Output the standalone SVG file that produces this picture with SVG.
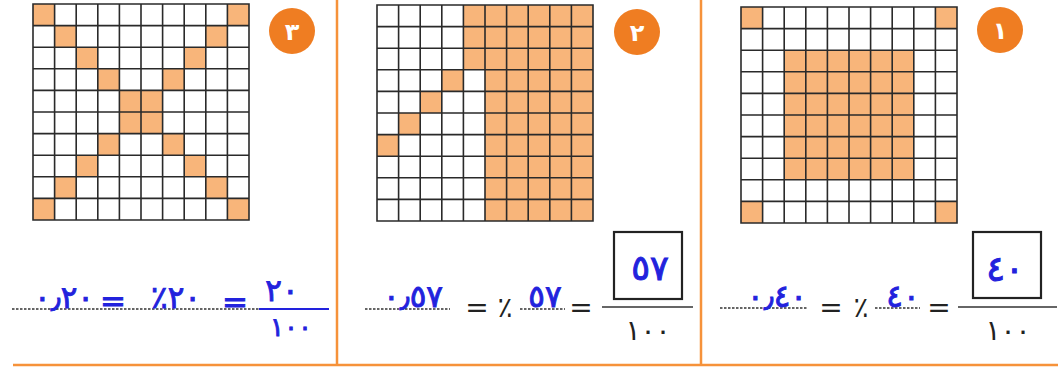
<svg xmlns="http://www.w3.org/2000/svg" xmlns:xlink="http://www.w3.org/1999/xlink" width="1058" height="368" viewBox="0 0 1058 368">
<style>
.f{fill:#F8B57A}
.gl{fill:none;stroke:#2a2a2a;stroke-width:1.6}
.or{stroke:#F6923A;stroke-width:2.5;fill:none}
.circ{fill:#EF7D22}
.cn{fill:#ffffff;font-family:"DejaVu Sans",sans-serif;font-size:24px;font-weight:bold;text-anchor:middle}
.hw{fill:#2222DD;stroke:#2222DD;stroke-width:0.9;font-family:"DejaVu Sans",sans-serif;font-size:31px;text-anchor:middle}
.hs{fill:#2222DD;stroke:#2222DD;stroke-width:0.8;font-family:"DejaVu Sans",sans-serif;font-size:26px;text-anchor:middle}
.hb{fill:#2222DD;stroke:#2222DD;stroke-width:1;font-family:"DejaVu Sans",sans-serif;font-size:35px;text-anchor:middle}
.bk{fill:#222222;font-family:"DejaVu Sans",sans-serif;font-size:28px;text-anchor:middle}
.dot{stroke:#333333;stroke-width:1.3;stroke-dasharray:2.5 1.5;fill:none}
.frac{stroke:#333333;stroke-width:1.6;fill:none}
.bluel{stroke:#2222DD;stroke-width:2.2;fill:none}
.box{fill:none;stroke:#222222;stroke-width:2.2}
</style>
<defs>
<path id="grid" class="gl" d="M0 0H216V216H0Z M21.6 0V216 M43.2 0V216 M64.8 0V216 M86.4 0V216 M108 0V216 M129.6 0V216 M151.2 0V216 M172.8 0V216 M194.4 0V216 M0 21.6H216 M0 43.2H216 M0 64.8H216 M0 86.4H216 M0 108H216 M0 129.6H216 M0 151.2H216 M0 172.8H216 M0 194.4H216"/>
</defs>
<rect width="1058" height="368" fill="#ffffff"/>

<g id="frame">
<line class="or" x1="337" y1="0" x2="337" y2="365"/>
<line class="or" x1="701" y1="0" x2="701" y2="365"/>
<line class="or" x1="13" y1="365" x2="1058" y2="365"/>
</g>

<g id="panel3">
<g id="grid3" transform="translate(33,4)">
<rect x="0" y="0" width="216" height="216" fill="#fff"/>
<rect class="f" x="0" y="0" width="21.6" height="21.6"/>
<rect class="f" x="194.4" y="0" width="21.6" height="21.6"/>
<rect class="f" x="21.6" y="21.6" width="21.6" height="21.6"/>
<rect class="f" x="172.8" y="21.6" width="21.6" height="21.6"/>
<rect class="f" x="43.2" y="43.2" width="21.6" height="21.6"/>
<rect class="f" x="151.2" y="43.2" width="21.6" height="21.6"/>
<rect class="f" x="64.8" y="64.8" width="21.6" height="21.6"/>
<rect class="f" x="129.6" y="64.8" width="21.6" height="21.6"/>
<rect class="f" x="86.4" y="86.4" width="43.2" height="43.2"/>
<rect class="f" x="64.8" y="129.6" width="21.6" height="21.6"/>
<rect class="f" x="129.6" y="129.6" width="21.6" height="21.6"/>
<rect class="f" x="43.2" y="151.2" width="21.6" height="21.6"/>
<rect class="f" x="151.2" y="151.2" width="21.6" height="21.6"/>
<rect class="f" x="21.6" y="172.8" width="21.6" height="21.6"/>
<rect class="f" x="172.8" y="172.8" width="21.6" height="21.6"/>
<rect class="f" x="0" y="194.4" width="21.6" height="21.6"/>
<rect class="f" x="194.4" y="194.4" width="21.6" height="21.6"/>
<use xlink:href="#grid"/>
</g>
<g id="badge3">
<circle class="circ" cx="292" cy="31" r="23"/>
<text class="cn" x="292" y="40">٣</text>
</g>
<g id="eq3">
<line class="dot" x1="12" y1="309" x2="259" y2="309"/>
<line class="bluel" x1="259" y1="309" x2="329" y2="309"/>
<text class="hw" x="64" y="308">٠٫٢٠</text>
<text class="hw" x="113" y="311">=</text>
<text class="hw" x="176" y="308">٪٢٠</text>
<text class="hw" x="235" y="312">=</text>
<text class="hw" x="282" y="301">٢٠</text>
<text class="hs" x="291" y="336">١٠٠</text>
</g>
</g>

<g id="panel2">
<g id="grid2" transform="translate(377,5)">
<rect x="0" y="0" width="216" height="216" fill="#fff"/>
<rect class="f" x="86.4" y="0" width="129.6" height="64.8"/>
<rect class="f" x="108" y="64.8" width="108" height="151.2"/>
<rect class="f" x="64.8" y="64.8" width="21.6" height="21.6"/>
<rect class="f" x="43.2" y="86.4" width="21.6" height="21.6"/>
<rect class="f" x="21.6" y="108" width="21.6" height="21.6"/>
<rect class="f" x="0" y="129.6" width="21.6" height="21.6"/>
<use xlink:href="#grid"/>
</g>
<g id="badge2">
<circle class="circ" cx="637" cy="32" r="23"/>
<text class="cn" x="637" y="41">٢</text>
</g>
<g id="eq2">
<line class="dot" x1="365" y1="309" x2="450" y2="309"/>
<text class="hw" x="413" y="307">٠٫٥٧</text>
<text class="bk" x="477" y="317">=</text>
<text class="bk" x="505" y="317">٪</text>
<line class="dot" x1="520" y1="309" x2="565" y2="309"/>
<text class="hw" x="545" y="307">٥٧</text>
<text class="bk" x="581" y="317">=</text>
<rect class="box" x="614" y="232" width="68" height="67"/>
<text class="hb" x="650" y="280">٥٧</text>
<line class="frac" x1="602" y1="307" x2="693" y2="307"/>
<text class="bk" x="648" y="340">١٠٠</text>
</g>
</g>

<g id="panel1">
<g id="grid1" transform="translate(741,7)">
<rect x="0" y="0" width="216" height="216" fill="#fff"/>
<rect class="f" x="0" y="0" width="21.6" height="21.6"/>
<rect class="f" x="194.4" y="0" width="21.6" height="21.6"/>
<rect class="f" x="0" y="194.4" width="21.6" height="21.6"/>
<rect class="f" x="194.4" y="194.4" width="21.6" height="21.6"/>
<rect class="f" x="43.2" y="43.2" width="129.6" height="129.6"/>
<use xlink:href="#grid"/>
</g>
<g id="badge1">
<circle class="circ" cx="1000" cy="30" r="23"/>
<text class="cn" x="1000" y="39">١</text>
</g>
<g id="eq1">
<line class="dot" x1="720" y1="308" x2="807" y2="308"/>
<text class="hw" x="777" y="307">٠٫٤٠</text>
<text class="bk" x="831" y="317">=</text>
<text class="bk" x="861" y="317">٪</text>
<line class="dot" x1="875" y1="308" x2="920" y2="308"/>
<text class="hw" x="903" y="307">٤٠</text>
<text class="bk" x="939" y="317">=</text>
<rect class="box" x="973" y="232" width="68" height="66"/>
<text class="hb" x="1005" y="281">٤٠</text>
<line class="frac" x1="958" y1="307" x2="1057" y2="307"/>
<text class="bk" x="1008" y="340">١٠٠</text>
</g>
</g>
</svg>
